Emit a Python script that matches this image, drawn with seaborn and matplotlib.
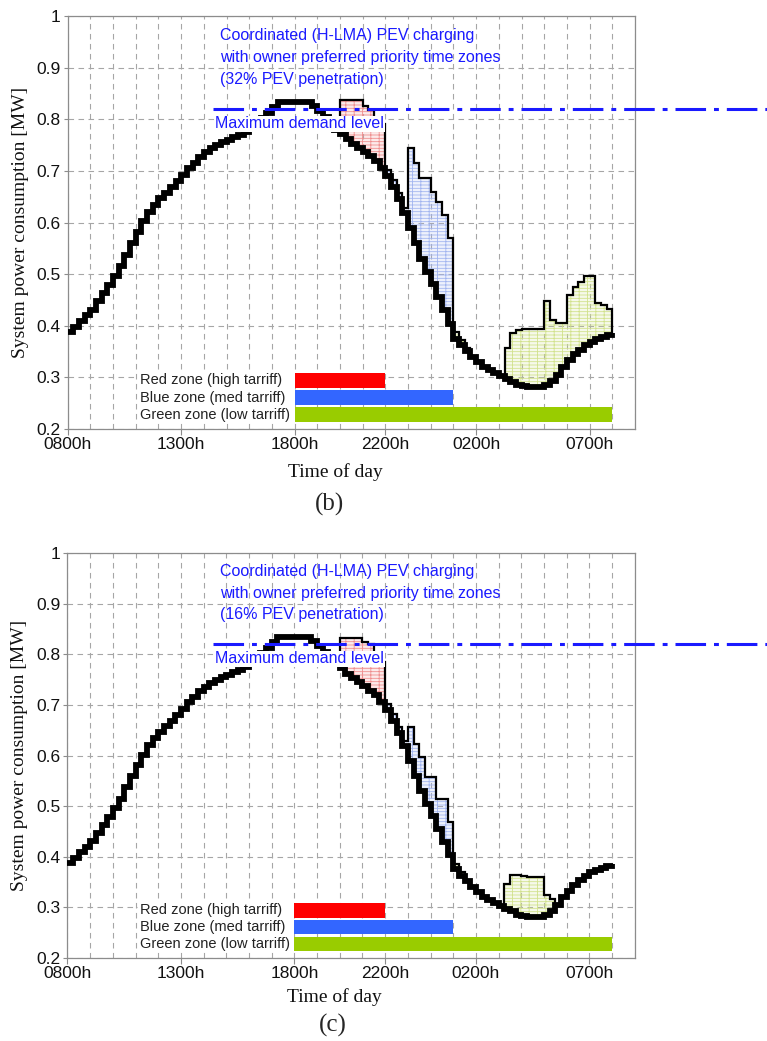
import numpy as np
import seaborn as sns
import matplotlib.pyplot as plt
from matplotlib.patches import Rectangle
from matplotlib.colors import to_rgba

# quarter-hour steps from 0800h to 0800h next day (hours counted from midnight of day 1)
hours = np.arange(8, 32.001, 0.25)

# base system load [MW], 97 points (last one closes the step curve at 0800h)
base_load = [
    0.387, 0.397, 0.410, 0.420, 0.431, 0.447, 0.463, 0.479,   # 08-10
    0.496, 0.515, 0.537, 0.560, 0.582, 0.602, 0.621, 0.634,   # 10-12
    0.647, 0.658, 0.669, 0.680, 0.692, 0.705, 0.716, 0.727,   # 12-14
    0.736, 0.744, 0.750, 0.756, 0.760, 0.765, 0.770, 0.775,   # 14-16
    0.782, 0.792, 0.802, 0.813, 0.824, 0.834, 0.834, 0.834,   # 16-18
    0.834, 0.834, 0.834, 0.826, 0.816, 0.805, 0.792, 0.780,   # 18-20
    0.772, 0.762, 0.753, 0.745, 0.737, 0.728, 0.719, 0.705,   # 20-22
    0.690, 0.668, 0.645, 0.618, 0.590, 0.560, 0.530, 0.505,   # 22-24
    0.480, 0.455, 0.430, 0.403, 0.375, 0.362, 0.352, 0.340,   # 00-02
    0.330, 0.321, 0.314, 0.308, 0.302, 0.297, 0.292, 0.286,   # 02-04
    0.283, 0.281, 0.281, 0.282, 0.285, 0.293, 0.305, 0.320,   # 04-06
    0.333, 0.345, 0.354, 0.362, 0.369, 0.374, 0.378, 0.382,   # 06-08
    0.385,
]

# PEV charging load on top of the base load [MW]
pev_32 = [
    0, 0, 0, 0, 0, 0, 0, 0,
    0, 0, 0, 0, 0, 0, 0, 0,
    0, 0, 0, 0, 0, 0, 0, 0,
    0, 0, 0, 0, 0, 0, 0, 0,
    0, 0, 0, 0, 0, 0, 0, 0,
    0, 0, 0, 0, 0, 0, 0, 0,
    0.066, 0.076, 0.085, 0.093, 0.088, 0.090, 0.081, 0.085,   # 20-22
    0.012, 0.015, 0.012, 0.010, 0.154, 0.155, 0.156, 0.181,   # 22-24
    0.180, 0.185, 0.185, 0.167, 0.012, 0.010, 0.005, 0,       # 00-02
    0, 0, 0, 0, 0, 0.059, 0.093, 0.106,                       # 02-04
    0.110, 0.112, 0.113, 0.112, 0.162, 0.118, 0.100, 0.085,   # 04-06
    0.127, 0.130, 0.131, 0.135, 0.128, 0.071, 0.062, 0.050,   # 06-08
    0,
]

pev_16 = [
    0, 0, 0, 0, 0, 0, 0, 0,
    0, 0, 0, 0, 0, 0, 0, 0,
    0, 0, 0, 0, 0, 0, 0, 0,
    0, 0, 0, 0, 0, 0, 0, 0,
    0, 0, 0, 0, 0, 0, 0, 0,
    0, 0, 0, 0, 0, 0, 0, 0,
    0.061, 0.071, 0.080, 0.088, 0.087, 0.092, 0.081, 0.080,   # 20-22
    0.012, 0.015, 0.012, 0.010, 0.066, 0.063, 0.067, 0.052,   # 22-24
    0.077, 0.060, 0.085, 0.066, 0.010, 0.008, 0, 0,           # 00-02
    0, 0, 0, 0, 0, 0.050, 0.072, 0.078,                       # 02-04
    0.079, 0.080, 0.080, 0.078, 0.039, 0.024, 0, 0,           # 04-06
    0, 0, 0, 0, 0, 0, 0, 0,
    0,
]

zone_names = ['Red zone (high tarriff)', 'Blue zone (med tarriff)', 'Green zone (low tarriff)']
zone_start = [18, 18, 18]
zone_end = [22, 25, 32]
zone_colors = ['#ff0000', '#3366ff', '#99cc00']
hatch_colors = ['#f09090', '#a3b6f0', '#d2e28e']

max_demand = 0.82

tick_hours = [8, 13, 18, 22, 26, 31]
tick_labels = ['0800h', '1300h', '1800h', '2200h', '0200h', '0700h']
y_ticks = [0.2, 0.3, 0.4, 0.5, 0.6, 0.7, 0.8, 0.9, 1.0]
y_labels = ['0.2', '0.3', '0.4', '0.5', '0.6', '0.7', '0.8', '0.9', '1']

panels = [
    (pev_32, '(32% PEV penetration)', '(b)'),
    (pev_16, '(16% PEV penetration)', '(c)'),
]

sns.set_theme(style='white')
plt.rcParams['font.family'] = ['Liberation Sans', 'DejaVu Sans']
plt.rcParams['hatch.linewidth'] = 0.6

BLUE = '#1a1aff'
GRID = '#a6a6a6'
SERIF = ['Liberation Serif', 'DejaVu Serif']


def draw_panel(ax, pev, caption):
    base = np.array(base_load)
    total = base + np.array(pev)

    # hatched charging regions, coloured by the tariff zone of the hour
    lo = zone_start[0]
    for end, hc in zip(zone_end, hatch_colors):
        mask = (hours >= lo) & (hours < end)
        ax.fill_between(hours, base, np.where(mask, total, base), step='post',
                        facecolor=to_rgba(hc, 0.18), edgecolor=hc, hatch='-----||',
                        linewidth=0, zorder=2)
        lo = end

    sns.lineplot(x=hours, y=total, drawstyle='steps-post', color='black',
                 linewidth=1.6, errorbar=None, sort=False, ax=ax, zorder=3,
                 solid_joinstyle='miter')
    sns.lineplot(x=hours, y=base, drawstyle='steps-post', color='black',
                 linewidth=4.2, errorbar=None, sort=False, ax=ax, zorder=4,
                 solid_joinstyle='miter', solid_capstyle='butt')

    # maximum demand level, runs past the right edge of the axes
    ax.plot([14.4, 40], [max_demand, max_demand], color=BLUE, linewidth=2.2,
            linestyle=(0, (10, 2.6, 1.6, 2.6)), clip_on=False, zorder=6)
    ax.text(14.5, 0.791, 'Maximum demand level', color=BLUE, fontsize=11.5,
            va='center', zorder=7,
            bbox=dict(facecolor='white', edgecolor='none', pad=0.5))

    title_lines = ['Coordinated (H-LMA) PEV charging',
                   'with owner preferred priority time zones', caption]
    for txt, yy in zip(title_lines, [0.963, 0.920, 0.878]):
        ax.text(14.73, yy, txt, color=BLUE, fontsize=11.5, va='center', zorder=7)

    # zone bars with their labels on a white patch
    ax.add_patch(Rectangle((11.1, 0.212), 6.9, 0.101, facecolor='white',
                           edgecolor='none', zorder=1))
    bar_y = [0.294, 0.261, 0.228]
    ax.barh(bar_y, np.subtract(zone_end, zone_start), left=zone_start,
            height=0.029, color=zone_colors, edgecolor='none', zorder=3)
    for name, yy in zip(zone_names, bar_y):
        ax.text(11.2, yy, name, fontsize=10.5, va='center', color='#222222', zorder=4)

    ax.set_xlim(8, 33)
    ax.set_ylim(0.2, 1.0)
    ax.set_xticks(tick_hours)
    ax.set_xticklabels(tick_labels)
    ax.set_xticks(np.arange(8, 34), minor=True)
    ax.set_yticks(y_ticks)
    ax.set_yticklabels(y_labels)
    ax.tick_params(axis='both', which='major', labelsize=12.5, colors='#8c8c8c',
                   labelcolor='#111111', length=4, width=0.8, pad=2, direction='out')
    ax.tick_params(axis='x', which='minor', length=0)
    ax.tick_params(axis='x', which='major', bottom=True)
    ax.tick_params(axis='y', which='major', left=True, length=3)
    ax.set_axisbelow(True)
    ax.grid(True, which='both', axis='x', color=GRID, linestyle=(0, (5, 4)), linewidth=0.8)
    ax.grid(True, which='major', axis='y', color=GRID, linestyle=(0, (5, 4)), linewidth=0.8)
    for sp in ax.spines.values():
        sp.set_color('#8c8c8c')
        sp.set_linewidth(0.9)

    ax.set_ylabel('System power consumption [MW]', family=SERIF, fontsize=14,
                  color='#111111', va='center')
    ax.set_xlabel('Time of day', family=SERIF, fontsize=14, color='#111111', va='center')
    ax.yaxis.set_label_coords(-0.084, 0.5)


fig = plt.figure(figsize=(7.67, 10.41), dpi=100)
ax_b = fig.add_axes([0.0883, 0.5879, 0.7396, 0.3967])
ax_c = fig.add_axes([0.0880, 0.0797, 0.7396, 0.3890])

for ax, (pev, caption, tag) in zip([ax_b, ax_c], panels):
    draw_panel(ax, pev, caption)

ax_b.xaxis.set_label_coords(0.471, -0.104)
ax_c.xaxis.set_label_coords(0.471, -0.096)
fig.text(0.430, 0.515, '(b)', family=SERIF, fontsize=18, ha='center', va='center')
fig.text(0.434, 0.0154, '(c)', family=SERIF, fontsize=18, ha='center', va='center')

fig.savefig('out.png', dpi=100)
